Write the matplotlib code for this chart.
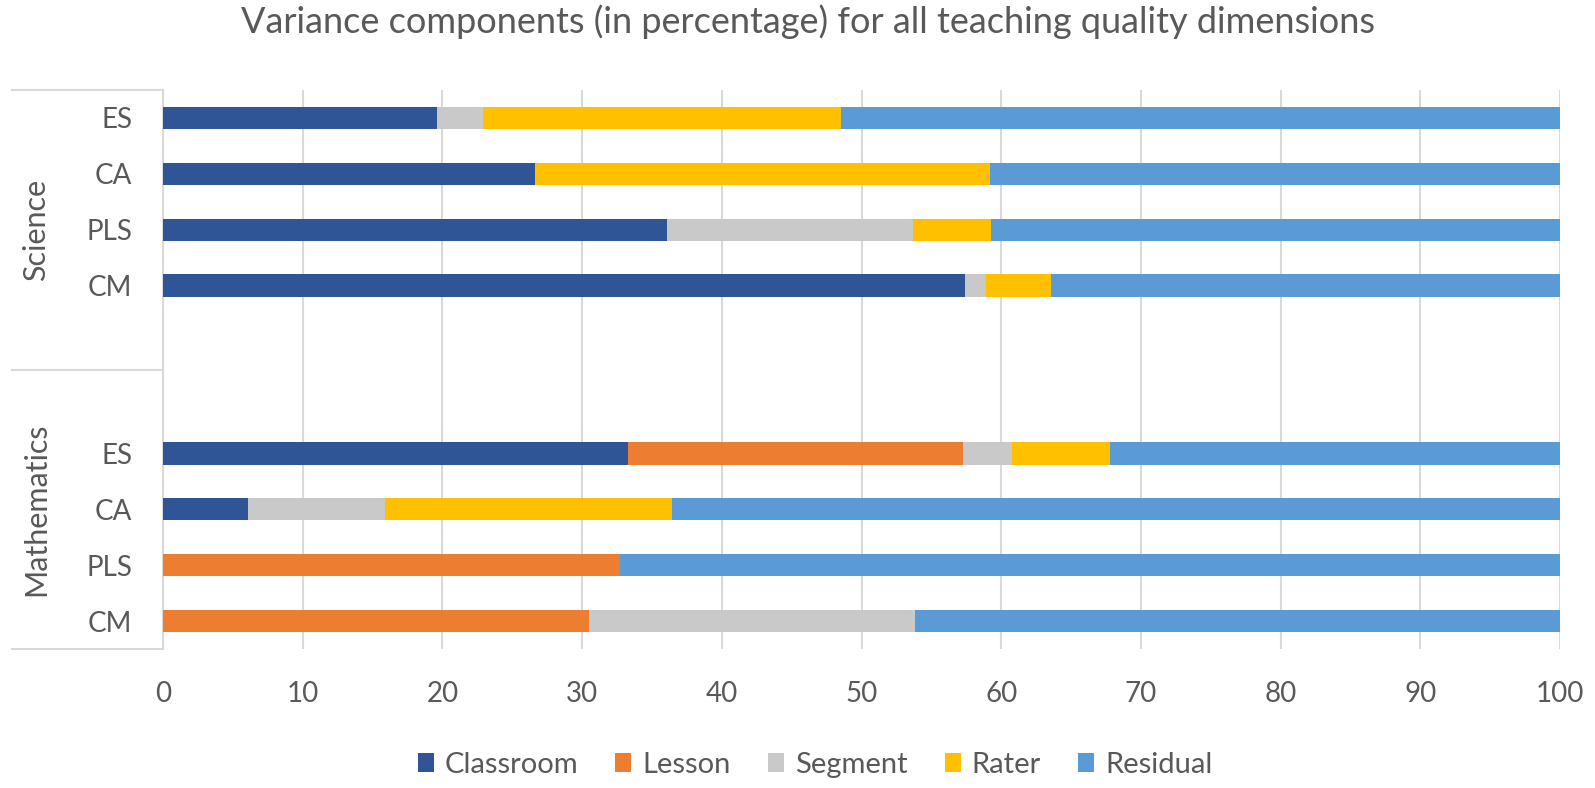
import matplotlib
matplotlib.use("Agg")
import numpy as np
import matplotlib.pyplot as plt
import matplotlib.transforms as mtransforms
from matplotlib.lines import Line2D

plt.rcParams["font.family"] = ["Lato", "DejaVu Sans"]

# ── data (top to bottom; "" = empty slot inside each group) ──
categories = ["ES", "CA", "PLS", "CM", "", "", "ES", "CA", "PLS", "CM"]
groups = ["Science", "Mathematics"]
components = ["Classroom", "Lesson", "Segment", "Rater", "Residual"]

classroom = [19.6, 26.6, 36.1, 57.4, 0, 0, 33.3, 6.1, 0.0, 0.0]
lesson    = [0.0, 0.0, 0.0, 0.0, 0, 0, 24.0, 0.0, 32.7, 30.5]
segment   = [3.3, 0.0, 17.6, 1.5, 0, 0, 3.5, 9.8, 0.0, 23.3]
rater     = [25.6, 32.6, 5.6, 4.7, 0, 0, 7.0, 20.5, 0.0, 0.0]
residual  = [51.5, 40.8, 40.7, 36.4, 0, 0, 32.2, 63.6, 67.3, 46.2]

colors = ["#2F5597", "#ED7D31", "#C9C9C9", "#FFC000", "#5B9BD5"]
TXT = "#595959"
GRID = "#D9D9D9"

W, H = 1595, 788
fig = plt.figure(figsize=(W / 100, H / 100), dpi=100)
ax = fig.add_axes([163 / W, 1 - 649 / H, (1560 - 163) / W, (649 - 90) / H])

y = np.arange(len(categories))
left = np.zeros(len(categories))
for name, vals, c in zip(components, [classroom, lesson, segment, rater, residual], colors):
    vals = np.array(vals, dtype=float)
    ax.barh(y, vals, left=left, height=0.4, color=c, label=name, zorder=3)
    left += vals

ax.set_xlim(0, 100)
ax.set_ylim(len(categories) - 0.5, -0.5)
ax.set_xticks(np.arange(0, 101, 10))
ax.set_yticks(y)
ax.set_yticklabels(categories)
ax.tick_params(axis="both", length=0, labelsize=20, labelcolor=TXT)
ax.tick_params(axis="y", pad=22)
ax.tick_params(axis="x", pad=23)
ax.grid(axis="x", color=GRID, linewidth=1.5, zorder=0)
for s in ["top", "right", "bottom"]:
    ax.spines[s].set_visible(False)
ax.spines["left"].set_color(GRID)
ax.spines["left"].set_linewidth(1.5)

# multi-level category axis: separators and rotated group labels
trans = mtransforms.blended_transform_factory(ax.transAxes, ax.transData)
x_out = (12 - 163) / (1560 - 163)
for yy in [-0.5, 4.5, 9.5]:
    ax.add_line(Line2D([x_out, 0], [yy, yy], transform=trans, color=GRID,
                       linewidth=1.5, clip_on=False))
x_grp = (36 - 163) / (1560 - 163)
for g, yc in zip(groups, [2, 7]):
    ax.text(x_grp, yc, g, transform=trans, rotation=90, ha="center", va="center",
            fontsize=22, color=TXT)

fig.text(808 / W, 1 - 33 / H, "Variance components (in percentage) for all teaching quality dimensions",
         ha="center", va="baseline", fontsize=26, color=TXT)

handles, labels = ax.get_legend_handles_labels()
fig.legend(handles, labels, loc="center", bbox_to_anchor=(815 / W, 1 - 765 / H), ncol=5,
           frameon=False, fontsize=21, labelcolor=TXT, handlelength=0.55, handleheight=0.6,
           handletextpad=0.38, columnspacing=1.27)

fig.savefig("out.png", dpi=100)
